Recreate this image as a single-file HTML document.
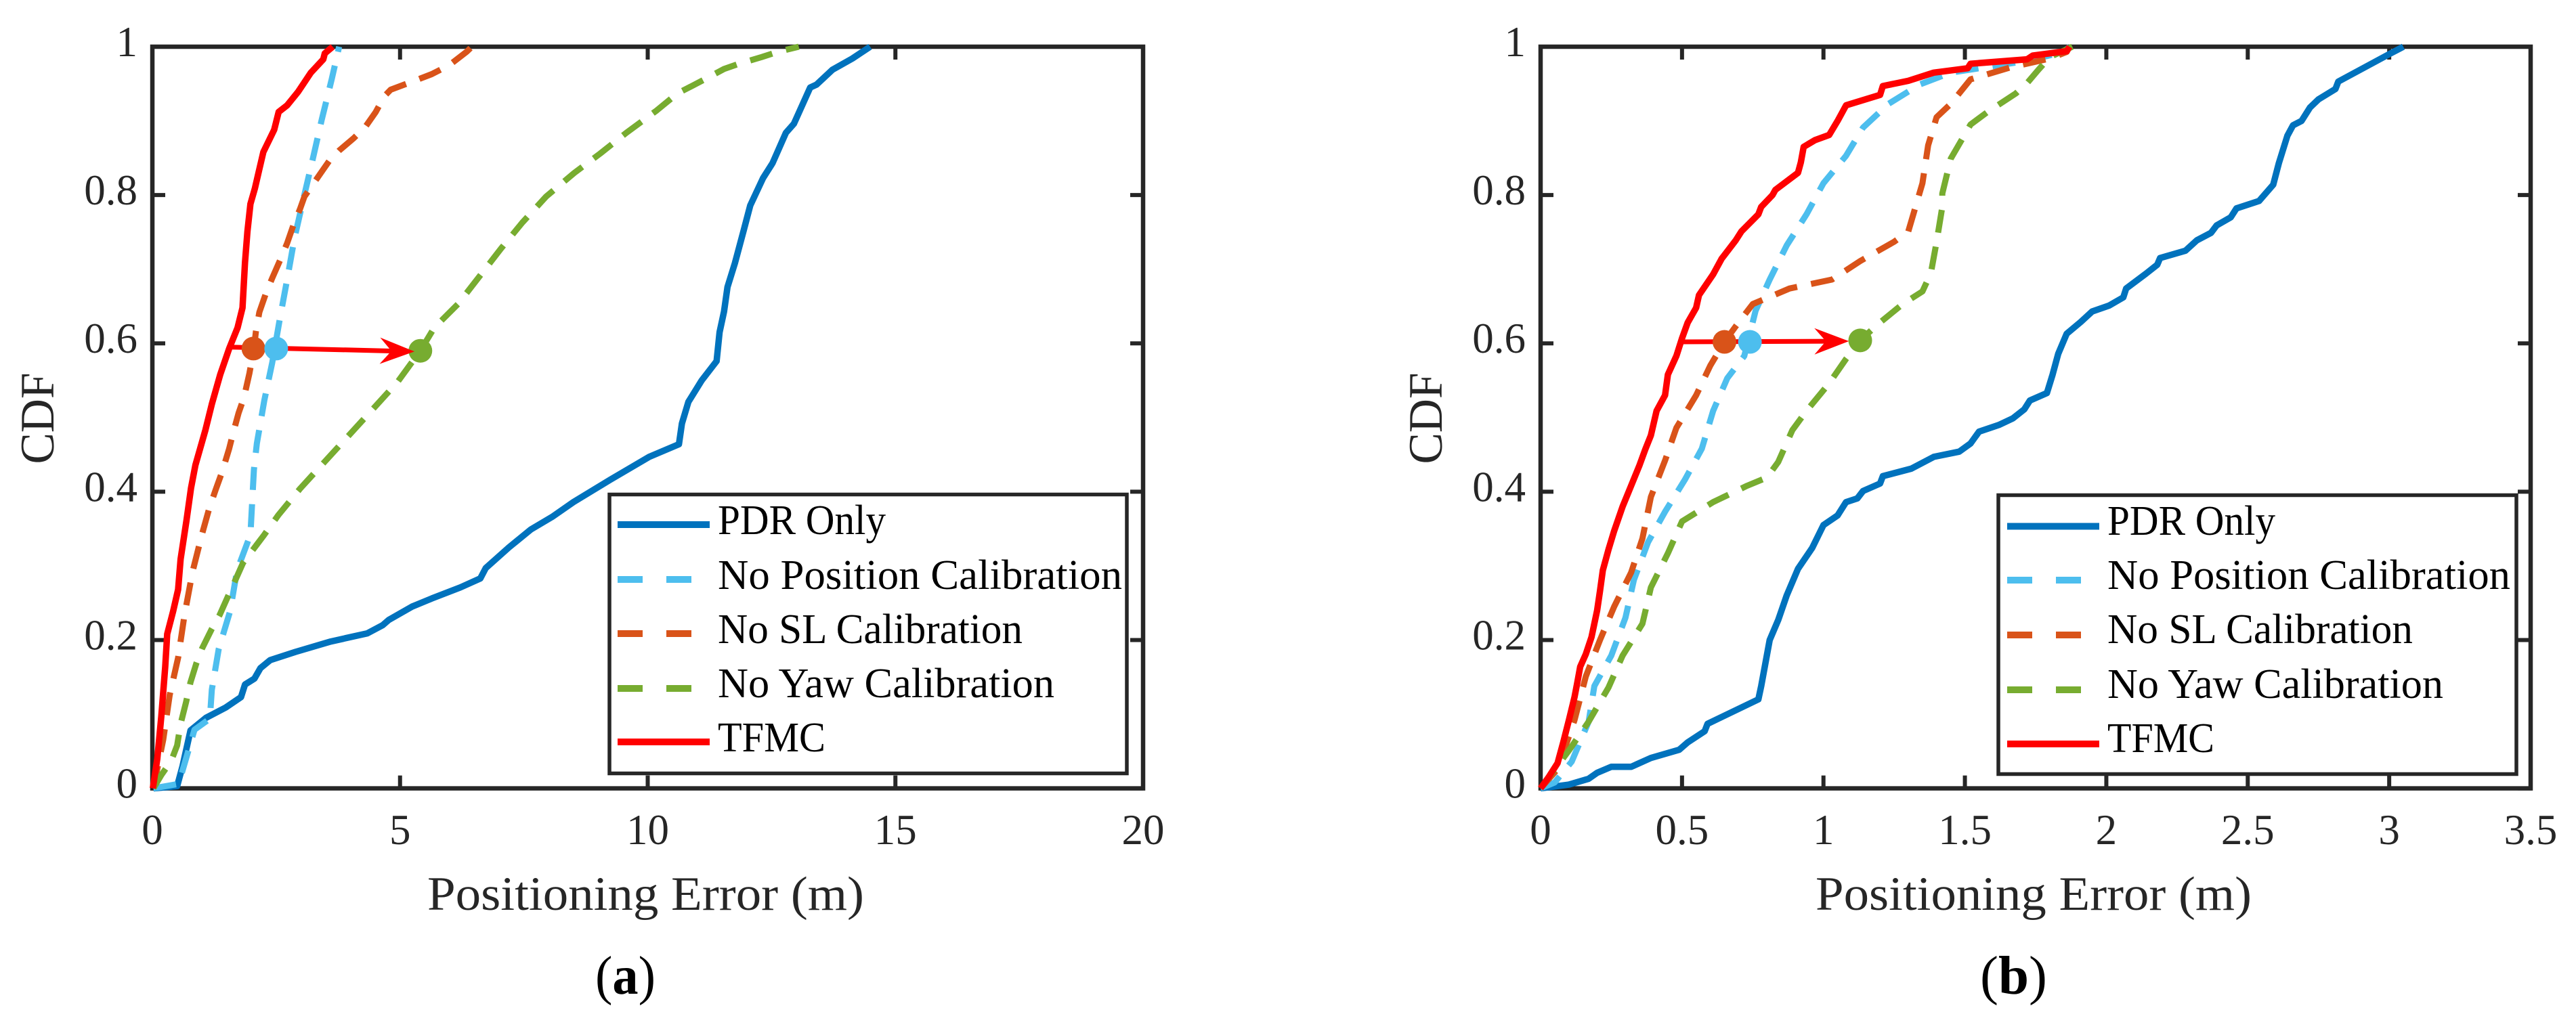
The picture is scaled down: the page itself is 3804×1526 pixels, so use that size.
<!DOCTYPE html>
<html lang="en">
<head>
<meta charset="utf-8">
<title>CDF of Positioning Error</title>
<style>
html,body{margin:0;padding:0;background:#fff;}
svg{display:block;}
text{font-family:"Liberation Serif",serif;}
.tick{font-size:63px;fill:#262626;}
.axis-title{font-size:71px;fill:#262626;}
.legend-text{font-size:62px;fill:#000;}
.sub{font-size:80px;fill:#000;}
</style>
</head>
<body>
<svg id="fig" xmlns="http://www.w3.org/2000/svg" width="3804" height="1526" viewBox="0 0 3804 1526">
<rect width="3804" height="1526" fill="#fff"/>
<g id="panel-a"></g>
<g id="panel-b"></g>

<text class="axis-title" transform="translate(79,618) rotate(-90)" text-anchor="middle" textLength="135" lengthAdjust="spacingAndGlyphs">CDF</text>
<text class="axis-title" x="631" y="1344" textLength="645" lengthAdjust="spacingAndGlyphs">Positioning Error (m)</text>
<text class="sub" x="879" y="1468" textLength="89" lengthAdjust="spacingAndGlyphs">(<tspan font-weight="bold">a</tspan>)</text>

<text class="axis-title" transform="translate(2129,618) rotate(-90)" text-anchor="middle" textLength="135" lengthAdjust="spacingAndGlyphs">CDF</text>
<text class="axis-title" x="2681" y="1344" textLength="644" lengthAdjust="spacingAndGlyphs">Positioning Error (m)</text>
<text class="sub" x="2924" y="1468" textLength="99" lengthAdjust="spacingAndGlyphs">(<tspan font-weight="bold">b</tspan>)</text>

<g id="legend-a">
  <rect x="900" y="730.5" width="764" height="412" fill="#fff" stroke="#262626" stroke-width="5.5"/>
  <line x1="912" x2="1048" y1="775" y2="775" stroke="#0072BD" stroke-width="10"/>
  <line x1="912" x2="1021" y1="856" y2="856" stroke="#4DBEEE" stroke-width="10" stroke-dasharray="37 35"/>
  <line x1="912" x2="1021" y1="936" y2="936" stroke="#D95319" stroke-width="10" stroke-dasharray="37 35"/>
  <line x1="912" x2="1021" y1="1017" y2="1017" stroke="#77AC30" stroke-width="10" stroke-dasharray="37 35"/>
  <line x1="912" x2="1048" y1="1096" y2="1096" stroke="#FF0000" stroke-width="10"/>
  <text class="legend-text" x="1060" y="789" textLength="248" lengthAdjust="spacingAndGlyphs">PDR Only</text>
  <text class="legend-text" x="1060" y="870" textLength="597" lengthAdjust="spacingAndGlyphs">No Position Calibration</text>
  <text class="legend-text" x="1060" y="950" textLength="450" lengthAdjust="spacingAndGlyphs">No SL Calibration</text>
  <text class="legend-text" x="1060" y="1030" textLength="497" lengthAdjust="spacingAndGlyphs">No Yaw Calibration</text>
  <text class="legend-text" x="1060" y="1110" textLength="159" lengthAdjust="spacingAndGlyphs">TFMC</text>
</g>

<g id="legend-b">
  <rect x="2951" y="731.5" width="765" height="412" fill="#fff" stroke="#262626" stroke-width="5.5"/>
  <line x1="2964" x2="3100" y1="777.5" y2="777.5" stroke="#0072BD" stroke-width="10"/>
  <line x1="2964" x2="3073" y1="857" y2="857" stroke="#4DBEEE" stroke-width="10" stroke-dasharray="37 35"/>
  <line x1="2964" x2="3073" y1="938" y2="938" stroke="#D95319" stroke-width="10" stroke-dasharray="37 35"/>
  <line x1="2964" x2="3073" y1="1019" y2="1019" stroke="#77AC30" stroke-width="10" stroke-dasharray="37 35"/>
  <line x1="2964" x2="3100" y1="1099" y2="1099" stroke="#FF0000" stroke-width="10"/>
  <text class="legend-text" x="3112" y="790" textLength="248" lengthAdjust="spacingAndGlyphs">PDR Only</text>
  <text class="legend-text" x="3112" y="870" textLength="595" lengthAdjust="spacingAndGlyphs">No Position Calibration</text>
  <text class="legend-text" x="3112" y="950" textLength="451" lengthAdjust="spacingAndGlyphs">No SL Calibration</text>
  <text class="legend-text" x="3112" y="1031" textLength="496" lengthAdjust="spacingAndGlyphs">No Yaw Calibration</text>
  <text class="legend-text" x="3112" y="1111" textLength="158" lengthAdjust="spacingAndGlyphs">TFMC</text>
</g>
</svg>
<script>
/* ---------- tick labels ---------- */
var yTicksVals = [0, 0.2, 0.4, 0.6, 0.8, 1];
var yTickLabels = ["0", "0.2", "0.4", "0.6", "0.8", "1"];
var xTicksA = [0, 5, 10, 15, 20];
var xTickLabelsA = ["0", "5", "10", "15", "20"];
var xTicksB = [0, 0.5, 1, 1.5, 2, 2.5, 3, 3.5];
var xTickLabelsB = ["0", "0.5", "1", "1.5", "2", "2.5", "3", "3.5"];

/* ---------- panel (a) series ---------- */
var pdrAx = [0.02,0.5,0.61,0.77,1.08,1.48,1.79,1.87,2.06,2.18,2.38,2.89,3.6,4.34,4.65,4.77,5.24,5.64,6.22,6.62,6.73,7.2,7.64,8.07,8.5,9.24,10.03,10.63,10.69,10.82,11.09,11.39,11.45,11.54,11.61,11.76,11.94,12.07,12.33,12.52,12.79,12.95,13.28,13.41,13.73,14.13,14.49];
var pdrAy = [0,0.003,0.03,0.078,0.095,0.109,0.123,0.14,0.148,0.162,0.173,0.184,0.198,0.209,0.22,0.227,0.245,0.256,0.271,0.283,0.297,0.325,0.349,0.366,0.386,0.416,0.447,0.464,0.492,0.521,0.55,0.576,0.615,0.643,0.676,0.708,0.753,0.786,0.823,0.843,0.884,0.896,0.945,0.949,0.969,0.984,1];
var posAx = [0.02,0.53,0.85,1.16,1.2,1.34,1.57,1.71,1.98,2.03,2.05,2.11,2.26,2.42,2.57,2.72,2.87,3.05,3.24,3.42,3.62,3.77];
var posAy = [0,0.006,0.079,0.094,0.133,0.188,0.239,0.294,0.342,0.405,0.43,0.465,0.523,0.574,0.632,0.686,0.742,0.795,0.849,0.902,0.956,1];
var slAx = [0.02,0.22,0.35,0.52,0.65,0.81,1,1.15,1.28,1.41,1.55,1.63,1.74,1.85,1.96,2.05,2.09,2.16,2.29,2.42,2.59,2.72,2.85,2.98,3.07,3.33,3.57,3.77,4.07,4.29,4.51,4.68,4.81,5.29,5.64,5.99,6.34,6.45];
var slAy = [0,0.066,0.126,0.176,0.234,0.292,0.342,0.378,0.403,0.427,0.458,0.479,0.506,0.527,0.56,0.593,0.616,0.642,0.667,0.688,0.714,0.735,0.76,0.781,0.798,0.823,0.846,0.86,0.877,0.891,0.912,0.933,0.942,0.954,0.963,0.975,0.993,1];
var yawAx = [0.02,0.18,0.38,0.5,0.57,0.68,0.77,0.89,1,1.2,1.36,1.52,1.67,1.83,2.26,2.55,2.98,3.46,3.94,4.42,4.95,5.41,5.69,6.17,6.6,7.04,7.47,7.95,8.52,9.04,9.57,10.18,10.6,10.89,11.15,11.54,11.84,12.3,12.62,13.05];
var yawAy = [0,0.018,0.037,0.058,0.087,0.116,0.143,0.169,0.188,0.215,0.234,0.258,0.28,0.304,0.342,0.369,0.404,0.439,0.474,0.509,0.548,0.59,0.621,0.653,0.69,0.728,0.763,0.798,0.83,0.856,0.884,0.914,0.937,0.947,0.956,0.97,0.977,0.986,0.993,1];
var tfmcAx = [0.01,0.1,0.18,0.26,0.3,0.42,0.52,0.57,0.69,0.78,0.87,1.07,1.2,1.37,1.55,1.72,1.82,1.87,1.92,1.98,2.07,2.16,2.24,2.46,2.55,2.72,2.94,3.2,3.45,3.48,3.64];
var tfmcAy = [0,0.04,0.097,0.164,0.208,0.239,0.268,0.309,0.362,0.405,0.436,0.483,0.518,0.558,0.593,0.621,0.648,0.709,0.751,0.788,0.809,0.835,0.858,0.888,0.912,0.921,0.939,0.965,0.983,0.991,1];

/* ---------- panel (b) series ---------- */
var pdrBx = [0,0.1,0.17,0.2,0.25,0.32,0.39,0.49,0.52,0.58,0.59,0.77,0.78,0.81,0.84,0.87,0.91,0.96,1,1.05,1.08,1.12,1.14,1.2,1.21,1.31,1.39,1.48,1.52,1.55,1.62,1.67,1.71,1.73,1.79,1.81,1.83,1.86,1.91,1.95,2.01,2.06,2.07,2.14,2.18,2.19,2.28,2.32,2.37,2.39,2.44,2.46,2.54,2.59,2.61,2.64,2.66,2.69,2.72,2.75,2.81,2.82,3,3.05];
var pdrBy = [0,0.005,0.013,0.021,0.029,0.029,0.041,0.052,0.062,0.077,0.087,0.12,0.138,0.2,0.227,0.26,0.296,0.324,0.355,0.368,0.386,0.391,0.401,0.411,0.421,0.431,0.447,0.454,0.465,0.481,0.49,0.499,0.511,0.523,0.533,0.558,0.586,0.613,0.629,0.643,0.651,0.662,0.674,0.694,0.706,0.715,0.725,0.739,0.749,0.759,0.77,0.782,0.792,0.814,0.843,0.88,0.894,0.9,0.918,0.929,0.943,0.953,0.99,1];
var posBx = [0,0.05,0.11,0.17,0.19,0.25,0.3,0.33,0.38,0.44,0.51,0.57,0.61,0.66,0.72,0.76,0.81,0.87,0.94,1,1.08,1.14,1.23,1.34,1.45,1.72,1.85,1.87];
var posBy = [0,0.008,0.036,0.09,0.138,0.179,0.23,0.281,0.332,0.373,0.416,0.458,0.509,0.553,0.583,0.644,0.686,0.732,0.774,0.816,0.853,0.891,0.923,0.949,0.965,0.981,0.993,1];
var slBx = [0,0.06,0.12,0.16,0.21,0.26,0.32,0.36,0.39,0.44,0.48,0.55,0.6,0.65,0.69,0.75,0.88,1.03,1.13,1.25,1.3,1.32,1.35,1.37,1.4,1.45,1.52,1.66,1.8,1.86,1.87];
var slBy = [0,0.026,0.092,0.151,0.2,0.245,0.291,0.337,0.393,0.442,0.486,0.53,0.57,0.602,0.623,0.653,0.674,0.686,0.711,0.737,0.751,0.777,0.816,0.867,0.905,0.923,0.956,0.972,0.984,0.993,1];
var yawBx = [0,0.1,0.17,0.24,0.29,0.36,0.39,0.45,0.5,0.61,0.73,0.8,0.84,0.89,0.94,1.02,1.08,1.13,1.19,1.28,1.35,1.38,1.4,1.42,1.42,1.45,1.52,1.58,1.68,1.72,1.76,1.8,1.88];
var yawBy = [0,0.051,0.09,0.136,0.179,0.222,0.271,0.317,0.36,0.386,0.408,0.419,0.44,0.483,0.509,0.546,0.579,0.604,0.625,0.653,0.67,0.695,0.737,0.784,0.802,0.849,0.895,0.912,0.937,0.951,0.969,0.986,1];
var tfmcBx = [0,0.03,0.06,0.08,0.1,0.12,0.13,0.14,0.16,0.18,0.2,0.21,0.22,0.24,0.26,0.29,0.32,0.35,0.37,0.39,0.41,0.44,0.45,0.48,0.5,0.52,0.55,0.56,0.61,0.64,0.69,0.71,0.77,0.78,0.82,0.83,0.91,0.92,0.93,0.97,1.02,1.05,1.08,1.2,1.21,1.3,1.39,1.51,1.52,1.72,1.74,1.86,1.87];
var tfmcBy = [0,0.016,0.034,0.062,0.092,0.123,0.143,0.164,0.181,0.204,0.24,0.266,0.294,0.322,0.347,0.38,0.408,0.436,0.457,0.476,0.509,0.53,0.558,0.583,0.607,0.628,0.648,0.665,0.693,0.714,0.739,0.751,0.774,0.784,0.8,0.807,0.83,0.844,0.865,0.874,0.881,0.9,0.921,0.935,0.947,0.954,0.965,0.971,0.977,0.983,0.988,0.994,1];

/* ---------- markers & arrows ---------- */
var markersAx = [5.41, 2.04, 2.5];
var markersAy = [0.59, 0.593, 0.593];
var markersBx = [1.13, 0.65, 0.74];
var markersBy = [0.604, 0.602, 0.602];
var arrowAx = [1.55, 5.29];
var arrowAy = [0.595, 0.589];
var arrowBx = [0.5, 1.09];
var arrowBy = [0.602, 0.603];

var markerNames = ['yaw', 'sl', 'position'];
var markerColors = ['#77AC30', '#D95319', '#4DBEEE'];

var NS = 'http://www.w3.org/2000/svg';
function mk(parent, tag, attrs) {
  var el = document.createElementNS(NS, tag);
  for (var k in attrs) el.setAttribute(k, attrs[k]);
  parent.appendChild(el);
  return el;
}

function drawPanel(id, suffix, L, R, xMax, xTicks, xLabels, series, mx, my, ax, ay) {
  var T = 69, B = 1164.6;
  var g = document.getElementById(id);
  function X(v) { return L + (R - L) * v / xMax; }
  function Y(v) { return B - (B - T) * v; }

  var frame = mk(g, 'rect', {x: L, y: T, width: R - L, height: B - T, fill: 'none', stroke: '#262626', 'stroke-width': 6.5});
  
  

  xTicks.forEach(function (v, i) {
    var t1 = mk(g, 'line', {x1: X(v), x2: X(v), y1: B, y2: B - 19, stroke: '#262626', 'stroke-width': 6});
    
    
    var t2 = mk(g, 'line', {x1: X(v), x2: X(v), y1: T, y2: T + 19, stroke: '#262626', 'stroke-width': 6});
    
    
    var lab = mk(g, 'text', {x: X(v), y: 1247, 'text-anchor': 'middle', 'class': 'tick'});
    
    
    lab.textContent = xLabels[i];
  });
  yTicksVals.forEach(function (v, i) {
    var t1 = mk(g, 'line', {x1: L, x2: L + 19, y1: Y(v), y2: Y(v), stroke: '#262626', 'stroke-width': 6});
    
    
    var t2 = mk(g, 'line', {x1: R, x2: R - 19, y1: Y(v), y2: Y(v), stroke: '#262626', 'stroke-width': 6});
    
    
    var lab = mk(g, 'text', {x: L - 22, y: Y(v) + 14, 'text-anchor': 'end', 'class': 'tick'});
    
    
    lab.textContent = yTickLabels[i];
  });

  series.forEach(function (s) {
    var pts = s.x.map(function (v, i) { return X(v).toFixed(1) + ',' + Y(s.y[i]).toFixed(1); }).join(' ');
    var attrs = {points: pts, fill: 'none', stroke: s.color, 'stroke-width': s.dash ? 9 : 9.5, 'stroke-linejoin': 'round'};
    if (s.dash) attrs['stroke-dasharray'] = '34 21';
    var line = mk(g, 'polyline', attrs);
    
    
  });

  /* green marker sits under the arrow, orange and blue above it */
  var m0 = mk(g, 'circle', {cx: X(mx[0]), cy: Y(my[0]), r: 17.5, fill: markerColors[0]});
  
  

  var x1 = X(ax[0]), y1 = Y(ay[0]), x2 = X(ax[1]), y2 = Y(ay[1]);
  var len = Math.hypot(x2 - x1, y2 - y1), ux = (x2 - x1) / len, uy = (y2 - y1) / len, nx = -uy, ny = ux;
  var shaft = mk(g, 'line', {x1: x1, y1: y1, x2: x2 - 30 * ux, y2: y2 - 30 * uy, stroke: '#FF0000', 'stroke-width': 7});
  
  
  function P(a, b) { return (x2 + a * ux + b * nx).toFixed(1) + ',' + (y2 + a * uy + b * ny).toFixed(1); }
  var head = mk(g, 'polygon', {points: [P(0, 0), P(-51, 19.5), P(-34, 0), P(-51, -19.5)].join(' '), fill: '#FF0000'});
  
  

  [1, 2].forEach(function (i) {
    var m = mk(g, 'circle', {cx: X(mx[i]), cy: Y(my[i]), r: 17.5, fill: markerColors[i]});
    
    
  });
}

drawPanel('panel-a', 'a', 225, 1688, 20, xTicksA, xTickLabelsA, [
  {name: 'pdr-only', color: '#0072BD', x: pdrAx, y: pdrAy},
  {name: 'no-position', color: '#4DBEEE', dash: true, x: posAx, y: posAy},
  {name: 'no-sl', color: '#D95319', dash: true, x: slAx, y: slAy},
  {name: 'no-yaw', color: '#77AC30', dash: true, x: yawAx, y: yawAy},
  {name: 'tfmc', color: '#FF0000', x: tfmcAx, y: tfmcAy}
], markersAx, markersAy, arrowAx, arrowAy);

drawPanel('panel-b', 'b', 2275, 3737, 3.5, xTicksB, xTickLabelsB, [
  {name: 'pdr-only', color: '#0072BD', x: pdrBx, y: pdrBy},
  {name: 'no-position', color: '#4DBEEE', dash: true, x: posBx, y: posBy},
  {name: 'no-sl', color: '#D95319', dash: true, x: slBx, y: slBy},
  {name: 'no-yaw', color: '#77AC30', dash: true, x: yawBx, y: yawBy},
  {name: 'tfmc', color: '#FF0000', x: tfmcBx, y: tfmcBy}
], markersBx, markersBy, arrowBx, arrowBy);

/* keep the legends above the plotted series */
var svg = document.getElementById('fig');
svg.appendChild(document.getElementById('legend-a'));
svg.appendChild(document.getElementById('legend-b'));
</script>
</body>
</html>
